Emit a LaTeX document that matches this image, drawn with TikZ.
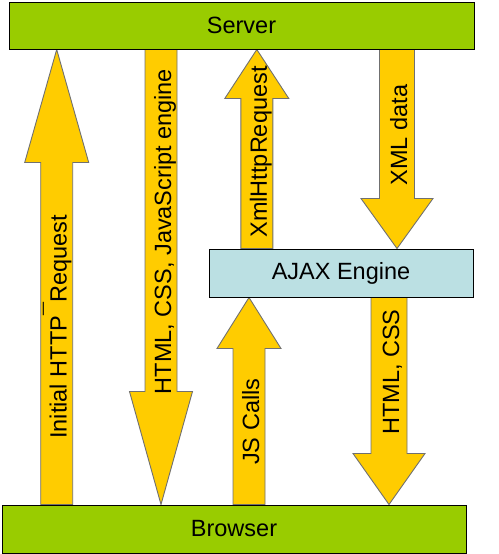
\documentclass[tikz,border=0pt]{standalone}
\usepackage{fontspec}
\setmainfont{Liberation Sans}
\usetikzlibrary{calc,backgrounds}
\definecolor{tiergreen}{HTML}{99CC00}
\definecolor{enginefill}{HTML}{BBE0E3}
\definecolor{flowfill}{HTML}{FFCC00}
\definecolor{flowline}{HTML}{707070}
\tikzset{
  tier/.style={rectangle, draw=black, fill=tiergreen, line width=1pt, font=\fontsize{23.5}{28}\selectfont, inner sep=0pt},
  engine/.style={rectangle, draw=black, fill=enginefill, line width=1pt, font=\fontsize{23.5}{28}\selectfont, inner sep=0pt},
  flow/.style={draw=flowline, fill=flowfill, line width=0.9pt, line join=miter},
  flowlabel/.style={rotate=90, font=\fontsize{23.5}{28}\selectfont, text height=20pt, text depth=0pt, inner sep=0pt}
}

\begin{document}
\begin{tikzpicture}[x=1pt,y=-1pt]
\useasboundingbox (0,0) rectangle (498,554);

% Boxes
\node[tier, minimum width=465, minimum height=47] (server) at (241.5,25.5) {Server};
\node[tier, minimum width=464, minimum height=48] (browser) at (234,529) {Browser};
\node[engine, minimum width=264, minimum height=48] (ajax) at (341,273) {AJAX Engine};

% Block arrows (x / from / to / shaft / head / head length / label pos / label)
\begin{scope}[on background layer]
\foreach \x/\from/\to/\sw/\hw/\hl/\pos/\txt [count=\i] in {
  56.7/browser.north/server.south/16/32/113/0.39/Initial HTTP\raisebox{6pt}{¯}Request,
  161/server.south/browser.north/16/31.5/113/0.40/{HTML, CSS, JavaScript engine},
  256.8/ajax.north/server.south/16/32/49/0.485/XmlHttpRequest,
  397/server.south/ajax.north/17.5/36/50/0.43/XML data,
  249/browser.north/ajax.south/16/32/51/0.40/JS Calls,
  389/ajax.south/browser.north/18/36/51/0.36/{HTML, CSS}} {
  \coordinate (tail\i) at (\x,0 |- \from);
  \coordinate (tip\i) at (\x,0 |- \to);
  \coordinate (base\i) at ($(tip\i)!\hl pt!(tail\i)$);
  \draw[flow] ($(tail\i)+(-\sw,0)$) -- ($(base\i)+(-\sw,0)$) -- ($(base\i)+(-\hw,0)$)
    -- (tip\i) -- ($(base\i)+(\hw,0)$) -- ($(base\i)+(\sw,0)$) -- ($(tail\i)+(\sw,0)$) -- cycle;
  \node[flowlabel] (label\i) at ($(tail\i)!\pos!(tip\i)$) {\txt};
}
\end{scope}

\end{tikzpicture}
\end{document}
